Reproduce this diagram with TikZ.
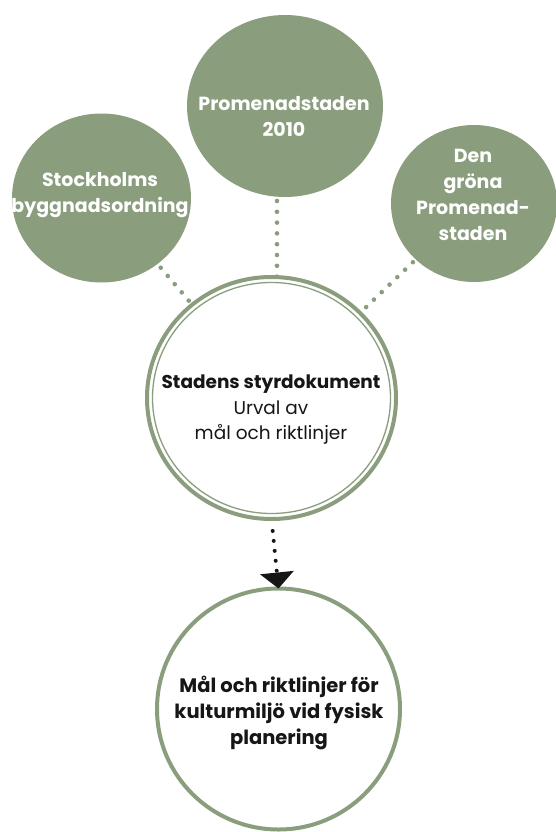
\documentclass[tikz,border=0pt]{standalone}
\usepackage{fontspec}
\setmainfont{Poppins}
\usetikzlibrary{shapes.geometric,arrows.meta}
\definecolor{sage}{RGB}{138,157,125}
\definecolor{ink}{RGB}{22,22,22}
\begin{document}
\begin{tikzpicture}[x=1pt,y=-1pt,
  disc/.style={ellipse, fill=sage, inner sep=0pt, outer sep=0pt},
  ring/.style={ellipse, draw=sage, line width=4pt, fill=white, inner sep=0pt, outer sep=0pt},
  disctext/.style={text=white, font=\bfseries\fontsize{19}{26}\selectfont, align=center, inner sep=0pt},
  ringtext/.style={text=ink, font=\fontsize{18.5}{25.5}\selectfont, align=center, inner sep=0pt},
  dots/.style={draw=sage, line width=4.6pt, line cap=round, dash pattern=on 0pt off 10.8pt},
  inkdots/.style={draw=ink, line width=4pt, line cap=round, dash pattern=on 0pt off 10pt}]
\useasboundingbox (0,0) rectangle (556,832);

% outer discs
\node[disc, minimum width=196pt, minimum height=182pt] (top) at (285,106) {};
\node[disc, minimum width=179pt, minimum height=169pt] (left) at (101.5,198) {};
\node[disc, minimum width=166pt, minimum height=157pt] (right) at (474,203.5) {};

% central ring with inner hairline
\node[ring, minimum width=249pt, minimum height=242pt] (mid) at (271.5,398) {};
\draw[sage, line width=1.3pt] (mid.center) ellipse [x radius=119pt, y radius=115.5pt];

% lower ring
\node[ring, minimum width=243pt, minimum height=241pt] (bot) at (278.5,709) {};

% dotted links to the central ring
\coordinate (axis) at (277,0);
\draw[dots] (axis |- top.south) ++(0,4) -- (axis |- mid.north);
\draw[dots, shorten <=5pt] (left) -- (mid);
\draw[dots, shorten <=4pt] (right) -- (mid);

% arrow down to the lower ring
\draw[inkdots, shorten <=12pt, -{Triangle[width=33pt,length=16pt,fill=ink]}] (mid.south) -- (bot.north);

% labels
\node[disctext] (ttop) at (284,116) {Promenadstaden\\2010};
\node[disctext] (tleft) at (100,195) {Stockholms\\byggnadsordning};
\node[disctext] (tright) at (473,195) {Den\\gröna\\Promenad-\\staden};
\node[ringtext] (tmid) at (271,410) {\textbf{Stadens styrdokument}\\Urval av\\mål och riktlinjer};
\node[ringtext, font=\bfseries\fontsize{19.5}{26}\selectfont] (tbot) at (279,713) {Mål och riktlinjer för\\kulturmiljö vid fysisk\\planering};
\end{tikzpicture}
\end{document}
